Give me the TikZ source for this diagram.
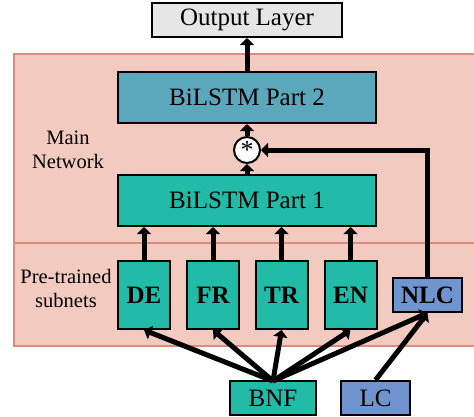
\documentclass[tikz,border=0pt]{standalone}
\usepackage{fontspec}
\setmainfont{Liberation Serif}
\usetikzlibrary{arrows.meta,calc}
\definecolor{pinkbg}{HTML}{F3CAC0}
\definecolor{pinkline}{HTML}{E08A7E}
\definecolor{lstmtwo}{HTML}{5BA8BD}
\definecolor{teal}{HTML}{21BBA7}
\definecolor{bluebox}{HTML}{7094CD}
\definecolor{graybox}{HTML}{E6E6E6}
\tikzset{
  box/.style={draw=black,line width=2pt,inner sep=0pt,font=\fontsize{25}{28}\selectfont},
  subbox/.style={box,font=\fontsize{25}{28}\selectfont\bfseries},
  bigarrow/.style={line width=5pt,-{Triangle[length=7pt,width=14pt]}},
  lbl/.style={font=\fontsize{20.5}{24}\selectfont,align=center},
}
\begin{document}
\begin{tikzpicture}[x=1pt,y=-1pt]
\useasboundingbox (0,0) rectangle (474,416);
\clip (0,0) rectangle (474,416);
% background region
\draw[fill=pinkbg,draw=pinkline,line width=1.5pt] (14,54) rectangle (490,346);
\draw[draw=pinkline,line width=1.5pt] (14,243) -- (490,243);
\node[lbl] (mainlbl) at (68,150) {Main\\Network};
\node[lbl] (prelbl) at (66,288) {Pre-trained\\subnets};
% nodes
\node[box,fill=graybox,minimum width=190pt,minimum height=34pt] (out) at (247,20) {Output Layer};
\node[box,fill=lstmtwo,minimum width=258pt,minimum height=51pt] (p2) at (247,97.5) {BiLSTM Part 2};
\node[box,fill=teal,minimum width=258pt,minimum height=51pt] (p1) at (247,200.5) {BiLSTM Part 1};
\node[draw=black,line width=2pt,fill=white,circle,minimum size=26pt,inner sep=0pt,font=\fontsize{26}{26}\selectfont] (mul) at (247,150) {\raisebox{-7pt}{*}};
\node[subbox,fill=teal,minimum width=52pt,minimum height=68pt] (de) at (144,295) {DE};
\node[subbox,fill=teal,minimum width=52pt,minimum height=68pt] (fr) at (213,295) {FR};
\node[subbox,fill=teal,minimum width=52pt,minimum height=68pt] (tr) at (281.5,295) {TR};
\node[subbox,fill=teal,minimum width=52pt,minimum height=68pt] (en) at (350.5,295) {EN};
\node[subbox,fill=bluebox,minimum width=69pt,minimum height=34pt] (nlc) at (427.5,295) {NLC};
\node[box,fill=teal,minimum width=86pt,minimum height=34pt] (bnf) at (273,398) {BNF};
\node[box,fill=bluebox,minimum width=69pt,minimum height=34pt] (lc) at (375.5,398) {LC};
% connectors
\draw[bigarrow] (p2.north) -- (out.south);
\draw[bigarrow] (mul.north) -- (p2.south);
\draw[bigarrow] (p1.north) -- (mul.south);
\draw[bigarrow] (nlc.north) |- (mul.east);
\foreach \s in {de,fr,tr,en}{
  \draw[bigarrow] (\s.north) -- (\s.north |- p1.south);
}
\coordinate (bnftop) at ($(bnf.north)+(0,1)$);
\draw[bigarrow] (bnftop) -- (de.south);
\draw[bigarrow] (bnftop) -- (fr.south);
\draw[bigarrow] (bnftop) -- (tr.south);
\draw[bigarrow] (bnftop) -- (en.south);
\draw[bigarrow] (bnftop) -- (nlc.south);
\draw[bigarrow] (lc.north) -- (nlc.south);
\end{tikzpicture}
\end{document}
